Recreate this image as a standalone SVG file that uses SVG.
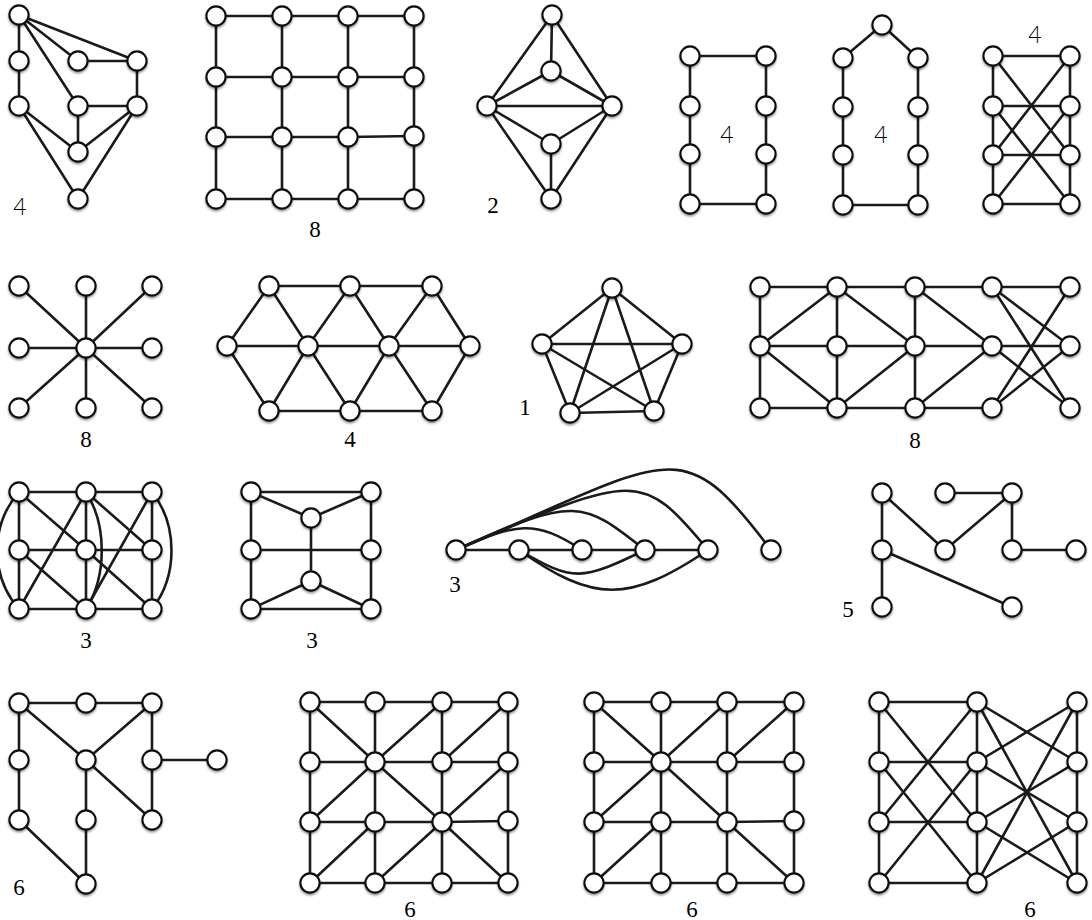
<svg xmlns="http://www.w3.org/2000/svg" width="1092" height="920" viewBox="0 0 1092 920">
<defs>
<filter id="sh" x="-50%" y="-50%" width="200%" height="200%"><feDropShadow dx="0" dy="1.6" stdDeviation="1.3" flood-color="#000" flood-opacity="0.45"/></filter>
</defs>
<style>
.e path{stroke:#1a1a1a;stroke-width:2.6;fill:none;stroke-linecap:round}
.ns{filter:url(#sh)}
.ns circle{fill:#fff;stroke:#111;stroke-width:2.1}
.ls{font-family:"Liberation Serif","Times New Roman",serif;font-size:23px;fill:#000;text-anchor:middle}
.la{font-family:Lato,"Liberation Sans",sans-serif;font-weight:300;font-size:23px;fill:#000;text-anchor:middle}
</style>
<rect width="1092" height="920" fill="#fff"/>

<!-- Graph 1 -->
<g id="graph1">
<g class="e" id="graph1-edges">
<path d="M19 15L19 61"/><path d="M19 61L19 106"/><path d="M19 15L78 61"/><path d="M19 15L137 61"/><path d="M19 15L78 106"/><path d="M78 61L137 61"/><path d="M137 61L137 106"/><path d="M78 106L137 106"/><path d="M78 106L78 152"/><path d="M19 106L78 152"/><path d="M19 106L78 199"/><path d="M137 106L78 152"/><path d="M137 106L78 199"/>
</g>
<g class="ns">
<g id="g1-a"><circle cx="19" cy="15" r="9.6"/></g><g id="g1-b"><circle cx="19" cy="61" r="9.6"/></g><g id="g1-c"><circle cx="19" cy="106" r="9.6"/></g><g id="g1-d"><circle cx="78" cy="61" r="9.6"/></g><g id="g1-e"><circle cx="137" cy="61" r="9.6"/></g><g id="g1-f"><circle cx="78" cy="106" r="9.6"/></g><g id="g1-g"><circle cx="137" cy="106" r="9.6"/></g><g id="g1-h"><circle cx="78" cy="152" r="9.6"/></g><g id="g1-i"><circle cx="78" cy="199" r="9.6"/></g>
</g>
<text class="la" x="20" y="215">4</text>
</g>

<!-- Graph 2: grid -->
<g id="graph2">
<g class="e" id="graph2-edges">
<path d="M216 16H282"/><path d="M282 16H348"/><path d="M348 16H414"/>
<path d="M216 77H282"/><path d="M282 77H348"/><path d="M348 77H414"/>
<path d="M216 137H282"/><path d="M282 137H348"/><path d="M348 137L414 136"/>
<path d="M216 199H282"/><path d="M282 199H348"/><path d="M348 199H414"/>
<path d="M216 16V77"/><path d="M216 77V137"/><path d="M216 137V199"/>
<path d="M282 16V77"/><path d="M282 77V137"/><path d="M282 137V199"/>
<path d="M348 16V77"/><path d="M348 77V137"/><path d="M348 137V199"/>
<path d="M414 16V77"/><path d="M414 77V136"/><path d="M414 136V199"/>
</g>
<g class="ns">
<g id="g2-00"><circle cx="216" cy="16" r="9.6"/></g><g id="g2-01"><circle cx="282" cy="16" r="9.6"/></g><g id="g2-02"><circle cx="348" cy="16" r="9.6"/></g><g id="g2-03"><circle cx="414" cy="16" r="9.6"/></g>
<g id="g2-10"><circle cx="216" cy="77" r="9.6"/></g><g id="g2-11"><circle cx="282" cy="77" r="9.6"/></g><g id="g2-12"><circle cx="348" cy="77" r="9.6"/></g><g id="g2-13"><circle cx="414" cy="77" r="9.6"/></g>
<g id="g2-20"><circle cx="216" cy="137" r="9.6"/></g><g id="g2-21"><circle cx="282" cy="137" r="9.6"/></g><g id="g2-22"><circle cx="348" cy="137" r="9.6"/></g><g id="g2-23"><circle cx="414" cy="136" r="9.6"/></g>
<g id="g2-30"><circle cx="216" cy="199" r="9.6"/></g><g id="g2-31"><circle cx="282" cy="199" r="9.6"/></g><g id="g2-32"><circle cx="348" cy="199" r="9.6"/></g><g id="g2-33"><circle cx="414" cy="199" r="9.6"/></g>
</g>
<text class="ls" x="315" y="237">8</text>
</g>

<!-- Graph 3: diamond -->
<g id="graph3">
<g class="e" id="graph3-edges">
<path d="M552 15L487 106"/><path d="M552 15L612 106"/><path d="M552 15L551 71"/><path d="M551 71L487 106"/><path d="M551 71L612 106"/><path d="M487 106L612 106"/><path d="M487 106L551 144"/><path d="M612 106L551 144"/><path d="M551 144L551 199"/><path d="M487 106L551 199"/><path d="M612 106L551 199"/>
</g>
<g class="ns">
<g id="g3-t"><circle cx="552" cy="15" r="9.6"/></g><g id="g3-u"><circle cx="551" cy="71" r="9.6"/></g><g id="g3-l"><circle cx="487" cy="106" r="9.6"/></g><g id="g3-r"><circle cx="612" cy="106" r="9.6"/></g><g id="g3-w"><circle cx="551" cy="144" r="9.6"/></g><g id="g3-b"><circle cx="551" cy="199" r="9.6"/></g>
</g>
<text class="ls" x="493" y="213">2</text>
</g>

<!-- Graph 4: rectangle cycle -->
<g id="graph4">
<g class="e" id="graph4-edges">
<path d="M690 56H766"/><path d="M690 204H766"/><path d="M690 56V106"/><path d="M690 106V154"/><path d="M690 154V204"/><path d="M766 56V106"/><path d="M766 106V154"/><path d="M766 154V204"/>
</g>
<g class="ns">
<g id="g4-l0"><circle cx="690" cy="56" r="9.6"/></g><g id="g4-l1"><circle cx="690" cy="106" r="9.6"/></g><g id="g4-l2"><circle cx="690" cy="154" r="9.6"/></g><g id="g4-l3"><circle cx="690" cy="204" r="9.6"/></g>
<g id="g4-r0"><circle cx="766" cy="56" r="9.6"/></g><g id="g4-r1"><circle cx="766" cy="106" r="9.6"/></g><g id="g4-r2"><circle cx="766" cy="154" r="9.6"/></g><g id="g4-r3"><circle cx="766" cy="204" r="9.6"/></g>
</g>
<text class="la" x="727" y="143">4</text>
</g>

<!-- Graph 5: house cycle -->
<g id="graph5">
<g class="e" id="graph5-edges">
<path d="M882 25L843 58"/><path d="M882 25L918 58"/><path d="M843 58V107"/><path d="M843 107V155"/><path d="M843 155V205"/><path d="M918 58V107"/><path d="M918 107V155"/><path d="M918 155V205"/><path d="M843 205H918"/>
</g>
<g class="ns">
<g id="g5-p"><circle cx="882" cy="25" r="9.6"/></g>
<g id="g5-l0"><circle cx="843" cy="58" r="9.6"/></g><g id="g5-l1"><circle cx="843" cy="107" r="9.6"/></g><g id="g5-l2"><circle cx="843" cy="155" r="9.6"/></g><g id="g5-l3"><circle cx="843" cy="205" r="9.6"/></g>
<g id="g5-r0"><circle cx="918" cy="58" r="9.6"/></g><g id="g5-r1"><circle cx="918" cy="107" r="9.6"/></g><g id="g5-r2"><circle cx="918" cy="155" r="9.6"/></g><g id="g5-r3"><circle cx="918" cy="205" r="9.6"/></g>
</g>
<text class="la" x="881" y="143">4</text>
</g>

<!-- Graph 6: ladder with crosses -->
<g id="graph6">
<g class="e" id="graph6-edges">
<path d="M993 56H1070"/><path d="M993 106H1070"/><path d="M993 155H1070"/><path d="M993 204H1070"/>
<path d="M993 56V106"/><path d="M993 106V155"/><path d="M993 155V204"/><path d="M1070 56V106"/><path d="M1070 106V155"/><path d="M1070 155V204"/>
<path d="M993 56L1070 155"/><path d="M1070 56L993 155"/><path d="M993 106L1070 204"/><path d="M1070 106L993 204"/>
</g>
<g class="ns">
<g id="g6-l0"><circle cx="993" cy="56" r="9.6"/></g><g id="g6-l1"><circle cx="993" cy="106" r="9.6"/></g><g id="g6-l2"><circle cx="993" cy="155" r="9.6"/></g><g id="g6-l3"><circle cx="993" cy="204" r="9.6"/></g>
<g id="g6-r0"><circle cx="1070" cy="56" r="9.6"/></g><g id="g6-r1"><circle cx="1070" cy="106" r="9.6"/></g><g id="g6-r2"><circle cx="1070" cy="155" r="9.6"/></g><g id="g6-r3"><circle cx="1070" cy="204" r="9.6"/></g>
</g>
<text class="la" x="1035" y="43">4</text>
</g>

<!-- Graph 7: star -->
<g id="graph7">
<g class="e" id="graph7-edges">
<path d="M86 348L19 286"/><path d="M86 348L86 286"/><path d="M86 348L152 286"/><path d="M86 348L19 348"/><path d="M86 348L152 348"/><path d="M86 348L19 408"/><path d="M86 348L86 408"/><path d="M86 348L152 408"/>
</g>
<g class="ns">
<g id="g7-c"><circle cx="86" cy="348" r="9.6"/></g>
<g id="g7-1"><circle cx="19" cy="286" r="9.6"/></g><g id="g7-2"><circle cx="86" cy="286" r="9.6"/></g><g id="g7-3"><circle cx="152" cy="286" r="9.6"/></g><g id="g7-4"><circle cx="19" cy="348" r="9.6"/></g><g id="g7-5"><circle cx="152" cy="348" r="9.6"/></g><g id="g7-6"><circle cx="19" cy="408" r="9.6"/></g><g id="g7-7"><circle cx="86" cy="408" r="9.6"/></g><g id="g7-8"><circle cx="152" cy="408" r="9.6"/></g>
</g>
<text class="ls" x="86" y="447">8</text>
</g>

<!-- Graph 8: triangular strip -->
<g id="graph8">
<g class="e" id="graph8-edges">
<path d="M269 286H350"/><path d="M350 286H432"/><path d="M227 346H308"/><path d="M308 346H389"/><path d="M389 346H470"/><path d="M269 411H350"/><path d="M350 411H432"/>
<path d="M269 286L227 346"/><path d="M269 286L308 346"/><path d="M350 286L308 346"/><path d="M350 286L389 346"/><path d="M432 286L389 346"/><path d="M432 286L470 346"/>
<path d="M269 411L227 346"/><path d="M269 411L308 346"/><path d="M350 411L308 346"/><path d="M350 411L389 346"/><path d="M432 411L389 346"/><path d="M432 411L470 346"/>
</g>
<g class="ns">
<g id="g8-t1"><circle cx="269" cy="286" r="9.6"/></g><g id="g8-t2"><circle cx="350" cy="286" r="9.6"/></g><g id="g8-t3"><circle cx="432" cy="286" r="9.6"/></g>
<g id="g8-m1"><circle cx="227" cy="346" r="9.6"/></g><g id="g8-m2"><circle cx="308" cy="346" r="9.6"/></g><g id="g8-m3"><circle cx="389" cy="346" r="9.6"/></g><g id="g8-m4"><circle cx="470" cy="346" r="9.6"/></g>
<g id="g8-b1"><circle cx="269" cy="411" r="9.6"/></g><g id="g8-b2"><circle cx="350" cy="411" r="9.6"/></g><g id="g8-b3"><circle cx="432" cy="411" r="9.6"/></g>
</g>
<text class="ls" x="350" y="447">4</text>
</g>

<!-- Graph 9: K5 -->
<g id="graph9">
<g class="e" id="graph9-edges">
<path d="M612 288L542 344"/><path d="M612 288L682 344"/><path d="M612 288L570 413"/><path d="M612 288L654 411"/><path d="M542 344L682 344"/><path d="M542 344L570 413"/><path d="M542 344L654 411"/><path d="M682 344L570 413"/><path d="M682 344L654 411"/><path d="M570 413L654 411"/>
</g>
<g class="ns">
<g id="g9-t"><circle cx="612" cy="288" r="9.6"/></g><g id="g9-l"><circle cx="542" cy="344" r="9.6"/></g><g id="g9-r"><circle cx="682" cy="344" r="9.6"/></g><g id="g9-bl"><circle cx="570" cy="413" r="9.6"/></g><g id="g9-br"><circle cx="654" cy="411" r="9.6"/></g>
</g>
<text class="ls" x="525" y="415">1</text>
</g>

<!-- Graph 10 -->
<g id="graph10">
<g class="e" id="graph10-edges">
<path d="M760 287H837"/><path d="M837 287H915"/><path d="M915 287H992"/><path d="M992 287H1070"/>
<path d="M760 346H837"/><path d="M837 346H915"/><path d="M915 346H992"/><path d="M992 346H1070"/>
<path d="M760 408H837"/><path d="M837 408H915"/><path d="M915 408H992"/>
<path d="M760 287V346"/><path d="M760 346V408"/><path d="M837 287V346"/><path d="M837 346V408"/><path d="M915 287V346"/><path d="M915 346V408"/>
<path d="M760 346L837 287"/><path d="M760 346L837 408"/><path d="M837 287L915 346"/><path d="M837 408L915 346"/><path d="M915 287L992 346"/><path d="M915 408L992 346"/>
<path d="M992 287L1070 346"/><path d="M992 287L1070 408"/><path d="M992 408L1070 287"/><path d="M992 408L1070 346"/><path d="M992 346L1070 408"/>
</g>
<g class="ns">
<g id="g10-00"><circle cx="760" cy="287" r="9.6"/></g><g id="g10-01"><circle cx="837" cy="287" r="9.6"/></g><g id="g10-02"><circle cx="915" cy="287" r="9.6"/></g><g id="g10-03"><circle cx="992" cy="287" r="9.6"/></g><g id="g10-04"><circle cx="1070" cy="287" r="9.6"/></g>
<g id="g10-10"><circle cx="760" cy="346" r="9.6"/></g><g id="g10-11"><circle cx="837" cy="346" r="9.6"/></g><g id="g10-12"><circle cx="915" cy="346" r="9.6"/></g><g id="g10-13"><circle cx="992" cy="346" r="9.6"/></g><g id="g10-14"><circle cx="1070" cy="346" r="9.6"/></g>
<g id="g10-20"><circle cx="760" cy="408" r="9.6"/></g><g id="g10-21"><circle cx="837" cy="408" r="9.6"/></g><g id="g10-22"><circle cx="915" cy="408" r="9.6"/></g><g id="g10-23"><circle cx="992" cy="408" r="9.6"/></g><g id="g10-24"><circle cx="1070" cy="408" r="9.6"/></g>
</g>
<text class="ls" x="915" y="448">8</text>
</g>

<!-- Graph 11 -->
<g id="graph11">
<g class="e" id="graph11-edges">
<path d="M19 492H86"/><path d="M86 492H152"/><path d="M19 550H86"/><path d="M86 550H152"/><path d="M19 609H86"/><path d="M86 609H152"/>
<path d="M19 492V550"/><path d="M19 550V609"/><path d="M86 492V550"/><path d="M86 550V609"/><path d="M152 492V550"/><path d="M152 550V609"/>
<path d="M19 492L86 550"/><path d="M19 550L86 609"/><path d="M86 492L19 609"/><path d="M86 492L152 550"/><path d="M86 550L152 609"/><path d="M152 492L86 609"/>
<path d="M19 492C-10 525 -10 576 19 609"/><path d="M152 492C178 525 178 576 152 609"/><path d="M86 492C107 525 107 576 86 609"/>
</g>
<g class="ns">
<g id="g11-00"><circle cx="19" cy="492" r="9.6"/></g><g id="g11-01"><circle cx="86" cy="492" r="9.6"/></g><g id="g11-02"><circle cx="152" cy="492" r="9.6"/></g>
<g id="g11-10"><circle cx="19" cy="550" r="9.6"/></g><g id="g11-11"><circle cx="86" cy="550" r="9.6"/></g><g id="g11-12"><circle cx="152" cy="550" r="9.6"/></g>
<g id="g11-20"><circle cx="19" cy="609" r="9.6"/></g><g id="g11-21"><circle cx="86" cy="609" r="9.6"/></g><g id="g11-22"><circle cx="152" cy="609" r="9.6"/></g>
</g>
<text class="ls" x="86" y="648">3</text>
</g>

<!-- Graph 12 -->
<g id="graph12">
<g class="e" id="graph12-edges">
<path d="M251 492H371"/><path d="M251 492L311 518"/><path d="M371 492L311 518"/><path d="M251 492V550"/><path d="M251 550V609"/><path d="M371 492V550"/><path d="M371 550V609"/><path d="M251 550H371"/><path d="M311 518V581"/><path d="M311 581L251 609"/><path d="M311 581L371 609"/><path d="M251 609H371"/>
</g>
<g class="ns">
<g id="g12-tl"><circle cx="251" cy="492" r="9.6"/></g><g id="g12-tr"><circle cx="371" cy="492" r="9.6"/></g><g id="g12-uc"><circle cx="311" cy="518" r="9.6"/></g><g id="g12-ml"><circle cx="251" cy="550" r="9.6"/></g><g id="g12-mr"><circle cx="371" cy="550" r="9.6"/></g><g id="g12-lc"><circle cx="311" cy="581" r="9.6"/></g><g id="g12-bl"><circle cx="251" cy="609" r="9.6"/></g><g id="g12-br"><circle cx="371" cy="609" r="9.6"/></g>
</g>
<text class="ls" x="312" y="648">3</text>
</g>

<!-- Graph 13: path with arcs -->
<g id="graph13">
<g class="e" id="graph13-edges">
<path d="M456 550H519"/><path d="M519 550H582"/><path d="M582 550H645"/><path d="M645 550H708"/>
<path d="M456 550C516 523 535 519 582 550"/><path d="M456 550C576 495 583 501 645 550"/><path d="M456 550C636 473 641 469 708 550"/><path d="M456 550C676 455 681 431 771 550"/>
<path d="M519 550C574 582 581 581 645 550"/><path d="M519 550C594 603 629 603 708 550"/>
</g>
<g class="ns">
<g id="g13-0"><circle cx="456" cy="550" r="9.6"/></g><g id="g13-1"><circle cx="519" cy="550" r="9.6"/></g><g id="g13-2"><circle cx="582" cy="550" r="9.6"/></g><g id="g13-3"><circle cx="645" cy="550" r="9.6"/></g><g id="g13-4"><circle cx="708" cy="550" r="9.6"/></g><g id="g13-5"><circle cx="771" cy="550" r="9.6"/></g>
</g>
<text class="ls" x="455" y="592">3</text>
</g>

<!-- Graph 14: tree -->
<g id="graph14">
<g class="e" id="graph14-edges">
<path d="M882 493V550"/><path d="M882 493L945 550"/><path d="M945 493H1012"/><path d="M1012 493L945 550"/><path d="M1012 493V550"/><path d="M1012 550H1076"/><path d="M882 550V607"/><path d="M882 550L1012 607"/>
</g>
<g class="ns">
<g id="g14-a"><circle cx="882" cy="493" r="9.6"/></g><g id="g14-b"><circle cx="945" cy="493" r="9.6"/></g><g id="g14-c"><circle cx="1012" cy="493" r="9.6"/></g><g id="g14-d"><circle cx="882" cy="550" r="9.6"/></g><g id="g14-e"><circle cx="945" cy="550" r="9.6"/></g><g id="g14-f"><circle cx="1012" cy="550" r="9.6"/></g><g id="g14-g"><circle cx="1076" cy="550" r="9.6"/></g><g id="g14-h"><circle cx="882" cy="607" r="9.6"/></g><g id="g14-i"><circle cx="1012" cy="607" r="9.6"/></g>
</g>
<text class="ls" x="848" y="617">5</text>
</g>

<!-- Graph 15 -->
<g id="graph15">
<g class="e" id="graph15-edges">
<path d="M19 703H86"/><path d="M86 703H152"/><path d="M19 703V760"/><path d="M19 760V820"/><path d="M19 820L86 884"/><path d="M19 703L86 760"/><path d="M152 703L86 760"/><path d="M152 703V760"/><path d="M152 760H217"/><path d="M152 760V820"/><path d="M86 760V820"/><path d="M86 760L152 820"/><path d="M86 820V884"/>
</g>
<g class="ns">
<g id="g15-a"><circle cx="19" cy="703" r="9.6"/></g><g id="g15-b"><circle cx="86" cy="703" r="9.6"/></g><g id="g15-c"><circle cx="152" cy="703" r="9.6"/></g>
<g id="g15-d"><circle cx="19" cy="760" r="9.6"/></g><g id="g15-e"><circle cx="86" cy="760" r="9.6"/></g><g id="g15-f"><circle cx="152" cy="760" r="9.6"/></g><g id="g15-g"><circle cx="217" cy="760" r="9.6"/></g>
<g id="g15-h"><circle cx="19" cy="820" r="9.6"/></g><g id="g15-i"><circle cx="86" cy="820" r="9.6"/></g><g id="g15-j"><circle cx="152" cy="820" r="9.6"/></g><g id="g15-k"><circle cx="86" cy="884" r="9.6"/></g>
</g>
<text class="ls" x="19" y="895">6</text>
</g>

<!-- Graph 16 -->
<g id="graph16">
<g class="e" id="graph16-edges">
<path d="M310 702H375"/><path d="M375 702H442"/><path d="M442 702H508"/>
<path d="M310 762H375"/><path d="M375 762H442"/><path d="M442 762H508"/>
<path d="M310 822H375"/><path d="M375 822H442"/><path d="M442 822L508 821"/>
<path d="M310 883H375"/><path d="M375 883H442"/><path d="M442 883H508"/>
<path d="M310 702V762"/><path d="M310 762V822"/><path d="M310 822V883"/>
<path d="M375 702V762"/><path d="M375 762V822"/><path d="M375 822V883"/>
<path d="M442 702V762"/><path d="M442 762V822"/><path d="M442 822V883"/>
<path d="M508 702V762"/><path d="M508 762V821"/><path d="M508 821V883"/>
<path d="M310 702L375 762"/><path d="M375 762L442 702"/><path d="M442 762L508 702"/><path d="M375 762L310 822"/><path d="M375 762L442 822"/><path d="M508 762L442 822"/><path d="M375 822L310 883"/><path d="M442 822L375 883"/><path d="M442 822L508 883"/>
</g>
<g class="ns">
<g id="g16-00"><circle cx="310" cy="702" r="9.6"/></g><g id="g16-01"><circle cx="375" cy="702" r="9.6"/></g><g id="g16-02"><circle cx="442" cy="702" r="9.6"/></g><g id="g16-03"><circle cx="508" cy="702" r="9.6"/></g>
<g id="g16-10"><circle cx="310" cy="762" r="9.6"/></g><g id="g16-11"><circle cx="375" cy="762" r="9.6"/></g><g id="g16-12"><circle cx="442" cy="762" r="9.6"/></g><g id="g16-13"><circle cx="508" cy="762" r="9.6"/></g>
<g id="g16-20"><circle cx="310" cy="822" r="9.6"/></g><g id="g16-21"><circle cx="375" cy="822" r="9.6"/></g><g id="g16-22"><circle cx="442" cy="822" r="9.6"/></g><g id="g16-23"><circle cx="508" cy="821" r="9.6"/></g>
<g id="g16-30"><circle cx="310" cy="883" r="9.6"/></g><g id="g16-31"><circle cx="375" cy="883" r="9.6"/></g><g id="g16-32"><circle cx="442" cy="883" r="9.6"/></g><g id="g16-33"><circle cx="508" cy="883" r="9.6"/></g>
</g>
<text class="ls" x="410" y="917">6</text>
</g>

<!-- Graph 17 -->
<g id="graph17">
<g class="e" id="graph17-edges">
<path d="M594 702H661"/><path d="M661 702H727"/><path d="M727 702H794"/>
<path d="M594 762H661"/><path d="M661 762H727"/><path d="M727 762H794"/>
<path d="M594 822H661"/><path d="M661 822H727"/><path d="M727 822L794 821"/>
<path d="M594 883H661"/><path d="M661 883H727"/><path d="M727 883H794"/>
<path d="M594 702V762"/><path d="M594 762V822"/><path d="M594 822V883"/>
<path d="M661 702V762"/><path d="M661 762V822"/><path d="M661 822V883"/>
<path d="M727 702V762"/><path d="M727 762V822"/><path d="M727 822V883"/>
<path d="M794 702V762"/><path d="M794 762V821"/><path d="M794 821V883"/>
<path d="M594 702L661 762"/><path d="M661 762L727 702"/><path d="M727 762L794 702"/><path d="M661 762L594 822"/><path d="M661 762L727 822"/><path d="M661 822L594 883"/><path d="M727 822L794 883"/>
</g>
<g class="ns">
<g id="g17-00"><circle cx="594" cy="702" r="9.6"/></g><g id="g17-01"><circle cx="661" cy="702" r="9.6"/></g><g id="g17-02"><circle cx="727" cy="702" r="9.6"/></g><g id="g17-03"><circle cx="794" cy="702" r="9.6"/></g>
<g id="g17-10"><circle cx="594" cy="762" r="9.6"/></g><g id="g17-11"><circle cx="661" cy="762" r="9.6"/></g><g id="g17-12"><circle cx="727" cy="762" r="9.6"/></g><g id="g17-13"><circle cx="794" cy="762" r="9.6"/></g>
<g id="g17-20"><circle cx="594" cy="822" r="9.6"/></g><g id="g17-21"><circle cx="661" cy="822" r="9.6"/></g><g id="g17-22"><circle cx="727" cy="822" r="9.6"/></g><g id="g17-23"><circle cx="794" cy="821" r="9.6"/></g>
<g id="g17-30"><circle cx="594" cy="883" r="9.6"/></g><g id="g17-31"><circle cx="661" cy="883" r="9.6"/></g><g id="g17-32"><circle cx="727" cy="883" r="9.6"/></g><g id="g17-33"><circle cx="794" cy="883" r="9.6"/></g>
</g>
<text class="ls" x="692" y="917">6</text>
</g>

<!-- Graph 18 -->
<g id="graph18">
<g class="e" id="graph18-edges">
<path d="M879 702V762"/><path d="M879 762V822"/><path d="M879 822V883"/>
<path d="M977 702V762"/><path d="M977 762V822"/><path d="M977 822V883"/>
<path d="M1077 702V762"/><path d="M1077 762V822"/><path d="M1077 822V883"/>
<path d="M879 702H977"/><path d="M879 762H977"/><path d="M879 822H977"/><path d="M879 883H977"/>
<path d="M879 702L977 822"/><path d="M977 702L879 822"/><path d="M879 762L977 883"/><path d="M977 762L879 883"/>
<path d="M977 702L1077 762"/><path d="M977 702L1077 883"/><path d="M1077 702L977 762"/><path d="M1077 702L977 883"/><path d="M977 762L1077 822"/><path d="M977 822L1077 762"/><path d="M977 822L1077 883"/><path d="M977 883L1077 822"/>
</g>
<g class="ns">
<g id="g18-l0"><circle cx="879" cy="702" r="9.6"/></g><g id="g18-l1"><circle cx="879" cy="762" r="9.6"/></g><g id="g18-l2"><circle cx="879" cy="822" r="9.6"/></g><g id="g18-l3"><circle cx="879" cy="883" r="9.6"/></g>
<g id="g18-m0"><circle cx="977" cy="702" r="9.6"/></g><g id="g18-m1"><circle cx="977" cy="762" r="9.6"/></g><g id="g18-m2"><circle cx="977" cy="822" r="9.6"/></g><g id="g18-m3"><circle cx="977" cy="883" r="9.6"/></g>
<g id="g18-r0"><circle cx="1077" cy="702" r="9.6"/></g><g id="g18-r1"><circle cx="1077" cy="762" r="9.6"/></g><g id="g18-r2"><circle cx="1077" cy="822" r="9.6"/></g><g id="g18-r3"><circle cx="1077" cy="883" r="9.6"/></g>
</g>
<text class="ls" x="1030" y="917">6</text>
</g>
</svg>
